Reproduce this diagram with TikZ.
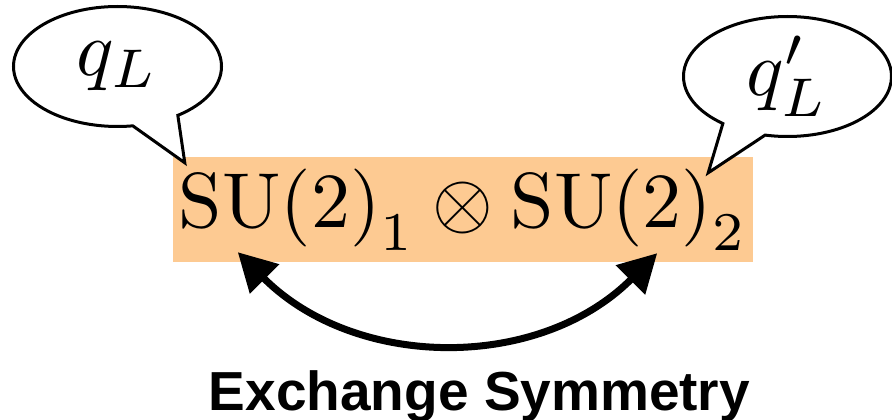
\documentclass[tikz,border=0pt]{standalone}
\usepackage{fontspec}
\usepackage{graphicx}
\usetikzlibrary{arrows.meta, shapes.callouts}
\newfontfamily\captionfont{Liberation Sans}
\definecolor{groupOrange}{RGB}{253,202,146}
\newcommand{\bigformula}[1]{\scalebox{7.8}{$#1$}}

\begin{document}
\begin{tikzpicture}[x=1pt, y=-1pt]
\useasboundingbox (0,0) rectangle (892,420);

\node[fill=groupOrange, inner sep=0pt, minimum width=580, minimum height=105] (groups) at (463,209.5) {\bigformula{\mathrm{SU(2)}_1 \otimes \mathrm{SU(2)}_2}};

\coordinate (leftTip) at ([shift={(12,6)}]groups.north west);
\coordinate (rightTip) at ([shift={(-45,16)}]groups.north east);
\node[draw, fill=white, line width=3pt, ellipse callout, callout absolute pointer={(leftTip)}, callout pointer arc=27, inner sep=0pt, minimum width=208, minimum height=120] (leftBubble) at (117.5,66.5) {\bigformula{q_L}};
\node[draw, fill=white, line width=3pt, ellipse callout, callout absolute pointer={(rightTip)}, callout pointer arc=26, inner sep=0pt, minimum width=208, minimum height=120] (rightBubble) at (787.5,76.5) {\bigformula{q'_L}};

\coordinate (leftEnd) at ([shift={(65,-10)}]groups.south west);
\coordinate (rightEnd) at ([shift={(-96,-9)}]groups.south east);
\draw[line width=7pt, {Triangle[length=38pt,width=40pt]}-{Triangle[length=38pt,width=40pt]}] (leftEnd) .. controls +(118,118) and +(-118,118) .. (rightEnd);

\node[font=\captionfont\bfseries\fontsize{55}{60}\selectfont, anchor=base] (caption) at (479.5,410) {Exchange Symmetry};

\end{tikzpicture}
\end{document}
